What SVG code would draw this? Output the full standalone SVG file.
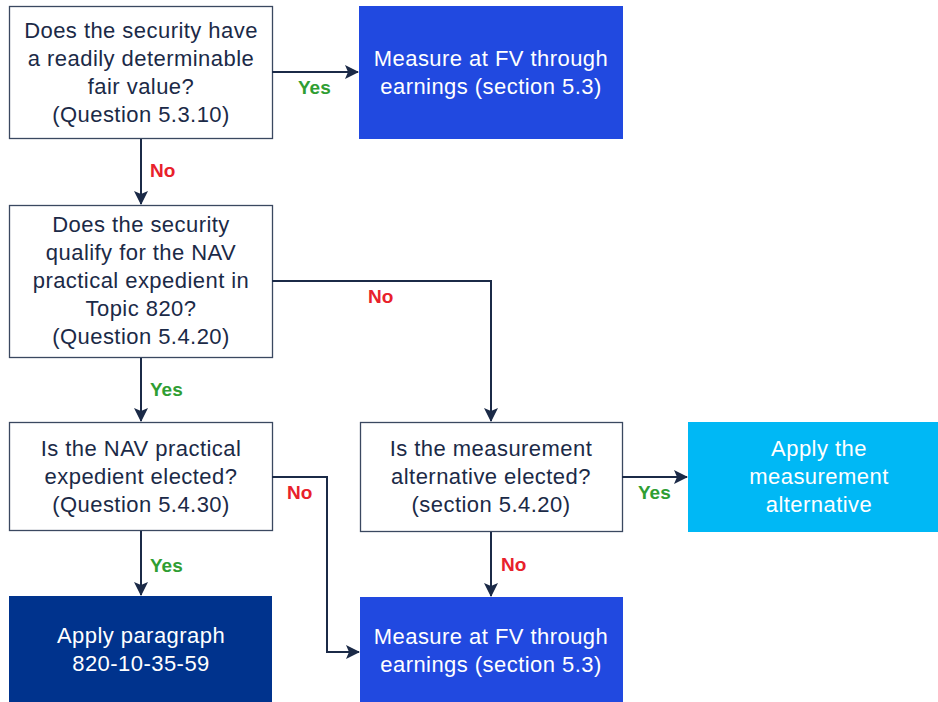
<svg xmlns="http://www.w3.org/2000/svg" width="938" height="702" viewBox="0 0 938 702">
<style>
.q{fill:#ffffff;stroke:#3a4860;stroke-width:1.3}
.t{font-family:"Liberation Sans",Arial,sans-serif;font-size:22px;letter-spacing:0.45px;text-anchor:middle;fill:#1b2a47}
.w{fill:#ffffff}
.e{fill:none;stroke:#1b2a47;stroke-width:2}
.lbl{font-family:"Liberation Sans",Arial,sans-serif;font-size:19px;font-weight:bold}
.yes{fill:#2f9e33}
.no{fill:#e8212b}
</style>
<defs>
<marker id="ah" markerUnits="userSpaceOnUse" markerWidth="14" markerHeight="14" viewBox="0 0 14 14" refX="13" refY="7" orient="auto">
<path d="M0,0 L14,7 L0,14 L3,7 Z" fill="#1b2a47"/>
</marker>
</defs>
<g id="q1">
<rect class="q" x="9.5" y="6.5" width="263" height="132"/>
<text class="t"><tspan x="141" y="38">Does the security have</tspan><tspan x="141" y="66">a readily determinable</tspan><tspan x="141" y="94">fair value?</tspan><tspan x="141" y="122">(Question 5.3.10)</tspan></text>
</g>
<g id="fv1">
<rect x="359" y="6" width="264" height="133" fill="#2149e0"/>
<text class="t w"><tspan x="491" y="66">Measure at FV through</tspan><tspan x="491" y="94">earnings (section 5.3)</tspan></text>
</g>
<g id="q2">
<rect class="q" x="9.5" y="205.5" width="263" height="152"/>
<text class="t"><tspan x="141" y="232">Does the security</tspan><tspan x="141" y="260">qualify for the NAV</tspan><tspan x="141" y="288">practical expedient in</tspan><tspan x="141" y="316">Topic 820?</tspan><tspan x="141" y="344">(Question 5.4.20)</tspan></text>
</g>
<g id="q3">
<rect class="q" x="9.5" y="422.5" width="263" height="108"/>
<text class="t"><tspan x="141" y="456">Is the NAV practical</tspan><tspan x="141" y="484">expedient elected?</tspan><tspan x="141" y="512">(Question 5.4.30)</tspan></text>
</g>
<g id="q4">
<rect class="q" x="360.5" y="422.5" width="262" height="109"/>
<text class="t"><tspan x="491" y="456">Is the measurement</tspan><tspan x="491" y="484">alternative elected?</tspan><tspan x="491" y="512">(section 5.4.20)</tspan></text>
</g>
<g id="alt">
<rect x="688" y="422" width="250" height="110" fill="#00b8f5"/>
<text class="t w"><tspan x="819" y="456">Apply the</tspan><tspan x="819" y="484">measurement</tspan><tspan x="819" y="512">alternative</tspan></text>
</g>
<g id="para">
<rect x="9" y="596" width="263" height="106" fill="#00338d"/>
<text class="t w"><tspan x="141" y="643">Apply paragraph</tspan><tspan x="141" y="671">820-10-35-59</tspan></text>
</g>
<g id="fv2">
<rect x="360" y="597" width="263" height="105" fill="#2149e0"/>
<text class="t w"><tspan x="491" y="644">Measure at FV through</tspan><tspan x="491" y="672">earnings (section 5.3)</tspan></text>
</g>
<g id="edges">
<path class="e" d="M272,72 H358" marker-end="url(#ah)"/>
<path class="e" d="M141,139 V204" marker-end="url(#ah)"/>
<path class="e" d="M272,281 H491 V421" marker-end="url(#ah)"/>
<path class="e" d="M141,358 V421" marker-end="url(#ah)"/>
<path class="e" d="M272,477 H327 V652 H359" marker-end="url(#ah)"/>
<path class="e" d="M622,477 H687" marker-end="url(#ah)"/>
<path class="e" d="M491,532 V596" marker-end="url(#ah)"/>
<path class="e" d="M141,531 V595" marker-end="url(#ah)"/>
</g>
<g id="labels">
<text class="lbl yes" x="298" y="94">Yes</text>
<text class="lbl no" x="150" y="177">No</text>
<text class="lbl no" x="368" y="303">No</text>
<text class="lbl yes" x="150" y="396">Yes</text>
<text class="lbl no" x="287" y="499">No</text>
<text class="lbl yes" x="638" y="499">Yes</text>
<text class="lbl no" x="501" y="571">No</text>
<text class="lbl yes" x="150" y="572">Yes</text>
</g>
</svg>
